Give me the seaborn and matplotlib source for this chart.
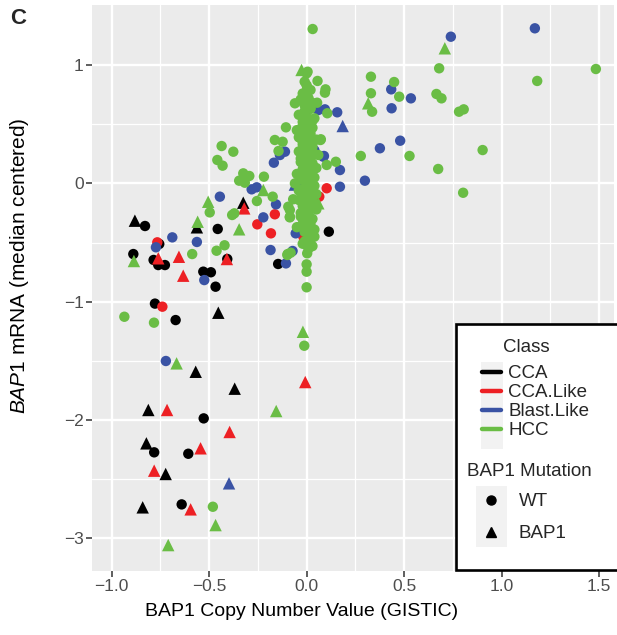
import pandas as pd
import matplotlib
matplotlib.use("Agg")
import matplotlib.pyplot as plt
import seaborn as sns
from matplotlib.lines import Line2D
from matplotlib.patches import Rectangle

# ---- data (copy number, mRNA) ----
cca_wt_x = [-0.778, -0.672, -0.528, -0.782, -0.607, -0.641, -0.829, -0.456, -0.756, -0.889,
            -0.785, -0.761, -0.727, -0.407, -0.530, -0.491, -0.467, -0.146, 0.114]
cca_wt_y = [-1.016, -1.155, -1.986, -2.273, -2.285, -2.713, -0.360, -0.385, -0.512, -0.597,
            -0.647, -0.690, -0.690, -0.639, -0.746, -0.751, -0.873, -0.681, -0.408]
cca_mut_x = [-0.453, -0.569, -0.369, -0.812, -0.822, -0.723, -0.841, -0.881, -0.563, -0.325]
cca_mut_y = [-1.093, -1.592, -1.735, -1.915, -2.197, -2.456, -2.738, -0.315, -0.371, -0.163]

ccalike_wt_x = [-0.740, -0.163, -0.253, -0.183, -0.766, 0.000, 0.103, 0.065, -0.017, 0.010, 0.020]
ccalike_wt_y = [-1.042, -0.261, -0.346, -0.422, -0.498, 0.612, -0.041, -0.112, -0.450, 0.030, 0.150]
ccalike_mut_x = [-0.007, -0.716, -0.395, -0.544, -0.782, -0.595, -0.320, -0.761, -0.655, -0.633, -0.409]
ccalike_mut_y = [-1.679, -1.915, -2.101, -2.239, -2.428, -2.755, -0.211, -0.633, -0.620, -0.780, -0.639]

blast_wt_x = [-0.722, -0.445, -0.157, -0.282, -0.256, -0.222, -0.185, -0.106, -0.072, -0.689,
              -0.563, -0.773, -0.525, -0.111, -0.137, -0.168, 0.060, 0.094, 0.157, 0.171,
              0.085, 0.171, -0.056, 0.740, 1.171, 0.434, 0.535, 0.436, 0.480, 0.376,
              0.299, 0.089, 0.040, -0.030, 0.040]
blast_wt_y = [-1.501, -0.112, -0.177, -0.050, -0.033, -0.287, -0.563, -0.676, -0.571, -0.456,
              -0.495, -0.540, -0.817, 0.268, 0.240, 0.175, 0.620, 0.626, 0.601, 0.113,
              0.226, -0.028, -0.422, 1.240, 1.311, 0.795, 0.719, 0.635, 0.361, 0.297,
              0.023, 0.232, 0.280, 0.020, -0.200]
blast_mut_x = [-0.398, 0.185, -0.060]
blast_mut_y = [-2.535, 0.485, -0.010]

hcc_wt_x = [-0.935, -0.783, -0.012, -0.481, -0.497, -0.371, -0.382, -0.255, -0.174, -0.094,
            -0.086, -0.097, -0.421, -0.587, -0.462, -0.436, -0.376, -0.458, -0.431, -0.325,
            -0.294, -0.346, -0.317, -0.219, -0.163, -0.123, -0.144, -0.106, -0.060, 0.005,
            0.056, 0.097, 0.094, 0.003, 0.054, 0.106, 0.150, 0.073, 0.103, 0.031,
            1.484, 1.183, 0.680, 0.330, 0.449, 0.475, 0.330, 0.336, 0.666, 0.692,
            0.782, 0.806, 0.903, 0.675, 0.803, 0.528, 0.278, 0.071, -0.099, -0.082,
            0.000, 0.003, 0.000, 0.000, 0.000, 0.026, -0.069, -0.086, -0.086,
            # dense column around zero copy number
            0.00, -0.01, 0.00, 0.02, -0.02, 0.01, -0.03, 0.03, -0.01, 0.02,
            -0.04, 0.00, 0.04, -0.02, 0.01, 0.03, -0.05, -0.01, 0.02, 0.00,
            -0.03, 0.05, 0.01, -0.02, 0.03, 0.00, -0.04, 0.02, 0.06, -0.01,
            0.01, -0.03, 0.03, 0.00, 0.05, -0.02, 0.02, -0.05, 0.00, 0.04,
            -0.02, 0.01, -0.06, 0.03, 0.00, -0.03, 0.02, 0.05, -0.01, 0.01,
            -0.04, 0.03, 0.00, -0.02, 0.02, 0.05, -0.01, 0.01, -0.03, 0.03,
            0.00, -0.02, 0.02, 0.00, 0.04, -0.01, 0.01, 0.02, -0.01, 0.01,
            0.03, -0.02, 0.01, -0.04, 0.02, -0.01, 0.04, -0.03, 0.00, 0.03,
            -0.02, 0.01, 0.04, -0.04, 0.02, -0.01, 0.03, -0.03, 0.00, 0.02,
            -0.05, 0.01, 0.04, -0.02, 0.03, -0.01, 0.02, -0.03, 0.01, 0.00]
hcc_wt_y = [-1.127, -1.177, -1.372, -2.733, -0.245, -0.253, -0.267, -0.149, -0.112, -0.197,
            -0.287, -0.597, -0.523, -0.597, -0.569, 0.316, 0.268, 0.198, 0.150, 0.085,
            0.063, 0.023, 0.006, 0.057, 0.367, 0.352, 0.274, 0.474, 0.677, 0.944,
            0.866, 0.795, 0.767, 0.809, 0.682, 0.593, 0.183, 0.373, 0.156, 1.305,
            0.967, 0.866, 0.973, 0.902, 0.857, 0.733, 0.762, 0.606, 0.756, 0.719,
            0.606, 0.626, 0.282, 0.122, -0.079, 0.232, 0.232, 0.367, -0.605, -0.586,
            -0.521, -0.591, -0.684, -0.746, -0.878, -0.422, -0.134, -0.225, -0.282,
            0.93, 0.86, 0.83, 0.79, 0.76, 0.72, 0.70, 0.68, 0.66, 0.63,
            0.58, 0.56, 0.55, 0.52, 0.50, 0.47, 0.45, 0.44, 0.42, 0.40,
            0.38, 0.37, 0.35, 0.33, 0.31, 0.29, 0.27, 0.26, 0.24, 0.22,
            0.20, 0.18, 0.17, 0.15, 0.13, 0.12, 0.10, 0.08, 0.07, 0.05,
            0.03, 0.01, 0.00, -0.01, -0.03, -0.05, -0.07, -0.09, -0.10, -0.12,
            -0.14, -0.15, -0.17, -0.19, -0.21, -0.22, -0.24, -0.26, -0.28, -0.30,
            -0.32, -0.34, -0.36, -0.38, -0.39, -0.41, -0.43, -0.47, -0.49, -0.55,
            0.53, 0.49, 0.43, 0.39, 0.34, 0.30, 0.25, 0.21, 0.16, 0.11,
            0.06, 0.02, -0.02, -0.06, -0.11, -0.16, -0.20, -0.25, -0.29, -0.33,
            -0.37, -0.42, -0.45, -0.51, -0.53, 0.61, 0.64, 0.71, 0.48, 0.36]
hcc_mut_x = [-0.019, -0.667, -0.156, -0.467, -0.710, -0.505, -0.559, -0.346, -0.886, -0.222,
             -0.026, 0.709, 0.316, 0.060]
hcc_mut_y = [-1.254, -1.521, -1.924, -2.888, -3.057, -0.155, -0.324, -0.388, -0.656, -0.056,
             0.959, 1.142, 0.677, -0.168]

class_names = ["CCA", "CCA.Like", "Blast.Like", "HCC"]
class_colors = ["#000000", "#ED2024", "#3A53A4", "#6ABD45"]
mut_names = ["WT", "BAP1"]

groups = [
    ("CCA", "WT", cca_wt_x, cca_wt_y), ("CCA", "BAP1", cca_mut_x, cca_mut_y),
    ("CCA.Like", "WT", ccalike_wt_x, ccalike_wt_y), ("CCA.Like", "BAP1", ccalike_mut_x, ccalike_mut_y),
    ("Blast.Like", "WT", blast_wt_x, blast_wt_y), ("Blast.Like", "BAP1", blast_mut_x, blast_mut_y),
    ("HCC", "WT", hcc_wt_x, hcc_wt_y), ("HCC", "BAP1", hcc_mut_x, hcc_mut_y),
]
frames = []
for cls, mut, xs, ys in groups:
    frames.append(pd.DataFrame({"cn": xs, "mrna": ys, "Class": cls, "Mutation": mut}))
df = pd.concat(frames, ignore_index=True)

sns.set_style("darkgrid", {"axes.facecolor": "#EBEBEB"})
plt.rcParams["font.family"] = ["Liberation Sans", "DejaVu Sans"]
plt.rcParams["mathtext.fontset"] = "custom"
plt.rcParams["mathtext.rm"] = "Liberation Sans"
plt.rcParams["mathtext.it"] = "Liberation Sans:italic"

W, H = 617, 635
fig = plt.figure(figsize=(W / 100, H / 100), dpi=100)
ax = fig.add_axes([92 / W, 1 - 571 / H, (614 - 92) / W, (571 - 5) / H])


def fx(px):
    return px / W


def fy(py):
    return 1 - py / H


sns.scatterplot(data=df, x="cn", y="mrna", hue="Class", style="Mutation", size="Mutation",
                hue_order=class_names, style_order=mut_names,
                palette=dict(zip(class_names, class_colors)),
                markers={"WT": "o", "BAP1": "^"}, sizes={"WT": 56, "BAP1": 80},
                linewidth=0, legend=False, ax=ax, zorder=3)

ax.set_xlim(-1.101, 1.577)
ax.set_ylim(-3.276, 1.508)
ax.set_xticks([-1.0, -0.5, 0.0, 0.5, 1.0, 1.5])
ax.set_xticklabels(["\u22121.0", "\u22120.5", "0.0", "0.5", "1.0", "1.5"])
ax.set_yticks([-3, -2, -1, 0, 1])
ax.set_yticklabels(["\u22123", "\u22122", "\u22121", "0", "1"])
ax.set_xticks([-0.75, -0.25, 0.25, 0.75, 1.25], minor=True)
ax.set_yticks([-2.5, -1.5, -0.5, 0.5], minor=True)
ax.grid(which="major", color="white", lw=1.7)
ax.grid(which="minor", color="white", lw=0.9)
ax.set_axisbelow(True)
for sp in ax.spines.values():
    sp.set_visible(False)
ax.tick_params(which="major", length=4, width=1.1, color="#333333",
               labelsize=12.5, labelcolor="#4D4D4D", pad=2, left=True, bottom=True)
ax.tick_params(which="minor", length=0)

ax.set_xlabel("BAP1 Copy Number Value (GISTIC)", fontsize=14, color="black")
ax.set_ylabel(r"$\mathit{BAP1}$ mRNA (median centered)", fontsize=15, color="black")
ax.xaxis.set_label_coords((302 - 92) / (614 - 92), -(603 - 571) / (571 - 5))
ax.yaxis.set_label_coords(-(92 - 31) / (614 - 92), (571 - 266) / (571 - 5))

fig.text(fx(10), fy(18), "C", fontsize=16, fontweight="bold", va="center", ha="left")

# legend box
fig.add_artist(Rectangle((fx(456), fy(570)), fx(700) - fx(456), (570 - 324) / H,
                         transform=fig.transFigure, facecolor="white", edgecolor="black",
                         lw=1.9, zorder=4))
fig.add_artist(Rectangle((fx(481), fy(449)), fx(503) - fx(481), (449 - 362) / H,
                         transform=fig.transFigure, facecolor="#F2F2F2", edgecolor="none",
                         zorder=4.5))
fig.add_artist(Rectangle((fx(476), fy(547)), fx(507) - fx(476), (547 - 486) / H,
                         transform=fig.transFigure, facecolor="#F2F2F2", edgecolor="none",
                         zorder=4.5))

fig.text(fx(503), fy(347), "Class", fontsize=13.5, va="center", ha="left", zorder=6)
fig.text(fx(467), fy(472), "BAP1 Mutation", fontsize=13.5, va="center", ha="left", zorder=6)

class_handles = [Line2D([0], [0], color=c, lw=3.2) for c in class_colors]
fig.legend(class_handles, class_names, loc="upper left", bbox_to_anchor=(fx(482), fy(365)),
           bbox_transform=fig.transFigure, frameon=False, fontsize=13.5,
           handlelength=1.0, handletextpad=0.4, labelspacing=0.1,
           borderpad=0, borderaxespad=0)

mut_handles = [Line2D([0], [0], marker="o", color="black", lw=0, markersize=6.5),
               Line2D([0], [0], marker="^", color="black", lw=0, markersize=7)]
fig.legend(mut_handles, mut_names, loc="upper left", bbox_to_anchor=(fx(482), fy(493)),
           bbox_transform=fig.transFigure, frameon=False, fontsize=13.5,
           handlelength=1.0, handletextpad=0.95, labelspacing=0.8,
           borderpad=0, borderaxespad=0)

fig.savefig("out.png", dpi=100)
